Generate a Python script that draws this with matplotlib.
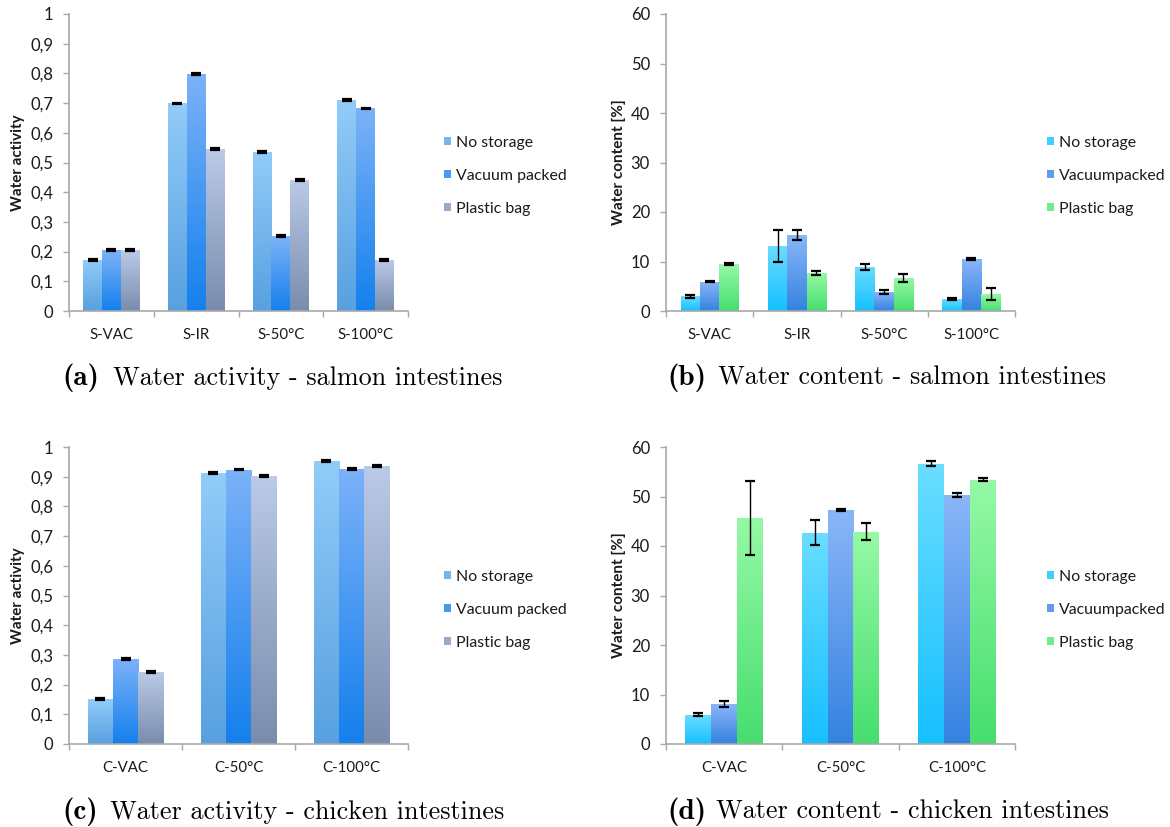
import numpy as np
import matplotlib
matplotlib.use("Agg")
import matplotlib.pyplot as plt
from matplotlib.colors import to_rgb
from matplotlib.patches import Patch

# ---------------- data ----------------
salmon_categories = ['S-VAC', 'S-IR', 'S-50°C', 'S-100°C']
chicken_categories = ['C-VAC', 'C-50°C', 'C-100°C']
activity_series = ['No storage', 'Vacuum packed', 'Plastic bag']
content_series = ['No storage', 'Vacuumpacked', 'Plastic bag']

salmon_aw_no_storage = [0.173, 0.699, 0.536, 0.710]
salmon_aw_vacuum = [0.205, 0.798, 0.252, 0.682]
salmon_aw_plastic = [0.205, 0.545, 0.442, 0.172]
salmon_aw_no_storage_err = [0.003, 0.003, 0.003, 0.003]
salmon_aw_vacuum_err = [0.003, 0.003, 0.003, 0.003]
salmon_aw_plastic_err = [0.003, 0.003, 0.003, 0.003]

salmon_wc_no_storage = [2.96, 13.1, 8.96, 2.42]
salmon_wc_vacuum = [5.93, 15.35, 3.84, 10.5]
salmon_wc_plastic = [9.43, 7.68, 6.67, 3.37]
salmon_wc_no_storage_err = [0.25, 3.3, 0.6, 0.15]
salmon_wc_vacuum_err = [0.15, 1.1, 0.35, 0.25]
salmon_wc_plastic_err = [0.2, 0.5, 0.75, 1.2]

chicken_aw_no_storage = [0.151, 0.913, 0.954]
chicken_aw_vacuum = [0.286, 0.924, 0.926]
chicken_aw_plastic = [0.242, 0.903, 0.936]
chicken_aw_no_storage_err = [0.004, 0.003, 0.003]
chicken_aw_vacuum_err = [0.003, 0.003, 0.003]
chicken_aw_plastic_err = [0.003, 0.003, 0.005]

chicken_wc_no_storage = [5.91, 42.67, 56.65]
chicken_wc_vacuum = [8.06, 47.25, 50.3]
chicken_wc_plastic = [45.7, 42.9, 53.4]
chicken_wc_no_storage_err = [0.35, 2.5, 0.45]
chicken_wc_vacuum_err = [0.55, 0.15, 0.45]
chicken_wc_plastic_err = [7.5, 1.7, 0.35]

captions = [('(a)', 'Water activity - salmon intestines'),
            ('(b)', 'Water content - salmon intestines'),
            ('(c)', 'Water activity - chicken intestines'),
            ('(d)', 'Water content - chicken intestines')]

# ---------------- style ----------------
activity_colors = [('#92CCF9', '#58A0E0'), ('#7CB2F9', '#1480EC'), ('#BACAE7', '#7A8CAD')]
content_colors = [('#6ADDFF', '#16C0FF'), ('#8AB6F9', '#3482E0'), ('#96F9A6', '#46DE6E')]
SANS = ['Lato', 'DejaVu Sans']
AXIS_GRAY = '#A8A8A8'
TEXT = '#1A1A1A'

W, H = 1170, 827
fig = plt.figure(figsize=(W / 100, H / 100), dpi=100)


def px_axes(left, top, right, bottom):
    return fig.add_axes([left / W, 1 - bottom / H, (right - left) / W, (bottom - top) / H])


def gradient_bars(ax, bars, top_c, bot_c):
    t = np.array(to_rgb(top_c))
    b = np.array(to_rgb(bot_c))
    f = np.linspace(0, 1, 256)[:, None]
    img = (t[None, :] * (1 - f) + b[None, :] * f)[:, None, :]
    for bar in bars:
        x0 = bar.get_x()
        w = bar.get_width()
        h = bar.get_height()
        im = ax.imshow(img, extent=[x0, x0 + w, 0, h], aspect='auto', zorder=2,
                       interpolation='bilinear')
        im.set_clip_path(bar)
        bar.set_facecolor('none')
        bar.set_edgecolor('none')


def draw_panel(ax, cats, values, errs, colors, labels, ymax, ystep, ylabel,
               ylab_x, ylab_size, legend_anchor, decimal_comma):
    n = len(cats)
    x = np.arange(n)
    w = 0.222
    offsets = [-w, 0, w]
    for vals, err, (tc, bc), lab, off in zip(values, errs, colors, labels, offsets):
        bars = ax.bar(x + off, vals, width=w, zorder=2, label=lab)
        gradient_bars(ax, bars, tc, bc)
        ax.errorbar(x + off, vals, yerr=err, fmt='none', ecolor='black',
                    elinewidth=1.0, capsize=3.6, capthick=1.6, zorder=4)
    ax.set_xlim(-0.5, n - 0.5)
    ax.set_ylim(0, ymax)
    ticks = np.arange(0, ymax + ystep / 2, ystep)
    ax.set_yticks(ticks)
    if decimal_comma:
        ax.set_yticklabels([('%g' % round(t, 2)).replace('.', ',') for t in ticks])
    else:
        ax.set_yticklabels(['%d' % t for t in ticks])
    ax.set_xticks(x)
    ax.set_xticklabels(cats)
    ax.set_xticks(np.arange(n + 1) - 0.5, minor=True)
    ax.tick_params(axis='x', which='major', length=0, pad=12, labelsize=10.8,
                   labelcolor=TEXT)
    ax.tick_params(axis='x', which='minor', length=4, width=1, color=AXIS_GRAY,
                   direction='out')
    ax.tick_params(axis='y', length=4.5, width=1, color=AXIS_GRAY, pad=7,
                   labelsize=12, labelcolor=TEXT)
    for t in ax.get_xticklabels() + ax.get_yticklabels():
        t.set_fontfamily(SANS)
    for s in ['top', 'right']:
        ax.spines[s].set_visible(False)
    for s in ['left', 'bottom']:
        ax.spines[s].set_color(AXIS_GRAY)
        ax.spines[s].set_linewidth(1.2)
    ax.set_ylabel(ylabel, fontsize=ylab_size, fontweight='bold', family=SANS, color=TEXT)
    ax.yaxis.set_label_coords(ylab_x, 0.5)
    handles = [Patch(facecolor=((np.array(to_rgb(c[0])) + np.array(to_rgb(c[1]))) / 2),
                     edgecolor='none') for c in colors]
    leg = ax.legend(handles, labels, loc='center left', bbox_to_anchor=legend_anchor,
                    frameon=False, handlelength=0.45, handleheight=0.45,
                    handletextpad=0.32, labelspacing=1.2,
                    prop={'family': SANS, 'size': 11.4})
    for t in leg.get_texts():
        t.set_color(TEXT)


ax_a = px_axes(69, 14, 408, 311)
ax_b = px_axes(666, 14, 1015, 311)
ax_c = px_axes(69, 447, 408, 744)
ax_d = px_axes(666, 447, 1015, 744)

draw_panel(ax_a, salmon_categories,
           [salmon_aw_no_storage, salmon_aw_vacuum, salmon_aw_plastic],
           [salmon_aw_no_storage_err, salmon_aw_vacuum_err, salmon_aw_plastic_err],
           activity_colors, activity_series, 1.0, 0.1, 'Water activity',
           -0.13, 10.9, (1.065, 0.455), True)
draw_panel(ax_b, salmon_categories,
           [salmon_wc_no_storage, salmon_wc_vacuum, salmon_wc_plastic],
           [salmon_wc_no_storage_err, salmon_wc_vacuum_err, salmon_wc_plastic_err],
           content_colors, content_series, 60, 10, 'Water content [%]',
           -0.115, 11, (1.05, 0.455), False)
draw_panel(ax_c, chicken_categories,
           [chicken_aw_no_storage, chicken_aw_vacuum, chicken_aw_plastic],
           [chicken_aw_no_storage_err, chicken_aw_vacuum_err, chicken_aw_plastic_err],
           activity_colors, activity_series, 1.0, 0.1, 'Water activity',
           -0.13, 10.9, (1.065, 0.452), True)
draw_panel(ax_d, chicken_categories,
           [chicken_wc_no_storage, chicken_wc_vacuum, chicken_wc_plastic],
           [chicken_wc_no_storage_err, chicken_wc_vacuum_err, chicken_wc_plastic_err],
           content_colors, content_series, 60, 10, 'Water content [%]',
           -0.115, 11, (1.05, 0.452), False)

# captions
cap_pos = [(62, 113, 378), (667, 718, 378), (62, 110, 812), (667, 716, 812)]
for (tag, txt), (xl, xt, yc) in zip(captions, cap_pos):
    fig.text(xl / W, 1 - yc / H, tag, family=['cmb10', 'DejaVu Serif'],
             fontsize=21, ha='left', va='center', color='black')
    fig.text(xt / W, 1 - yc / H, txt, family=['cmr10', 'DejaVu Serif'],
             fontsize=18.8, ha='left', va='center', color='black')

fig.savefig('out.png', dpi=100, facecolor='white')
